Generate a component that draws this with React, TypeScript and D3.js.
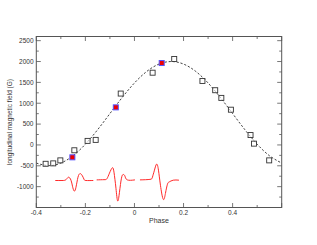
import React from 'react';
import * as d3 from 'd3';

// observed longitudinal field
const obsPhase = [-0.362, -0.331, -0.302, -0.245, -0.191, -0.158, -0.056, 0.074, 0.162, 0.277, 0.329, 0.354, 0.393, 0.473, 0.487, 0.549];
const obsField = [-452, -442, -370, -128, 97, 121, 1232, 1732, 2060, 1534, 1312, 1128, 845, 237, 31, -370];

// highlighted points (red)
const redPhase = [-0.253, -0.076, 0.111];
const redField = [-297, 901, 1964];

const fitPhase = [-0.4, -0.35, -0.3, -0.25, -0.2, -0.15, -0.1, -0.05, 0, 0.05, 0.1, 0.15, 0.2, 0.25, 0.3, 0.35, 0.4, 0.45, 0.5, 0.55, 0.6];
const fitField = [-435, -496, -435, -258, 18, 366, 752, 1138, 1486, 1762, 1939, 2000, 1939, 1762, 1486, 1138, 752, 366, 18, -258, -435];

// Stokes V profile insets (plotted in data units)
const prof1Phase = [-0.3226, -0.2953, -0.279, -0.2688, -0.2587, -0.2525, -0.2456, -0.2383, -0.2301, -0.222, -0.2138, -0.2057, -0.1976, -0.1678];
const prof1Field = [-853, -853, -833, -773, -845, -990, -1106, -1014, -773, -688, -725, -821, -853, -853];
const prof2Phase = [-0.154, -0.1242, -0.112, -0.1018, -0.0904, -0.0835, -0.0754, -0.0684, -0.0611, -0.053, -0.0456, -0.0387, -0.0293, 0.002];
const prof2Field = [-838, -833, -809, -676, -548, -652, -1039, -1345, -1135, -797, -708, -749, -838, -838];
const prof3Phase = [0.0224, 0.0631, 0.0733, 0.0815, 0.0904, 0.0978, 0.1059, 0.1173, 0.1263, 0.1344, 0.1418, 0.158, 0.1813];
const prof3Field = [-838, -826, -773, -604, -459, -604, -966, -1304, -1159, -942, -886, -845, -845];

const xTicks = [-0.4, -0.2, 0, 0.2, 0.4];
const yTicks = [-1000, -500, 0, 500, 1000, 1500, 2000, 2500];

const W = 317, H = 245;
const left = 36.3, right = 281.7, top = 36.5, bottom = 207.5;
const font = 'Liberation Sans, Arial, sans-serif';

const App = () => {
  const x = d3.scaleLinear().domain([-0.4, 0.6]).range([left, right]);
  const y = d3.scaleLinear().domain([-1500, 2600]).range([bottom, top]);

  const line = d3.line<[number, number]>().x(d => x(d[0])).y(d => y(d[1]));
  const fitLine = d3.line<[number, number]>().x(d => x(d[0])).y(d => y(d[1])).curve(d3.curveNatural);
  const zip = (a: number[], b: number[]) => a.map((v, i) => [v, b[i]] as [number, number]);

  const xMinor = d3.range(-0.4, 0.6001, 0.1);
  const yMinor = d3.range(-1500, 2501, 250);
  const axisColor = '#555';
  const s = 5;

  return (
    <svg width={W} height={H} style={{ position: 'fixed', left: 0, top: 0, background: '#fff' }}>
      <rect x={0} y={0} width={W} height={H} fill="#fff" />
      {/* profiles */}
      {[zip(prof1Phase, prof1Field), zip(prof2Phase, prof2Field), zip(prof3Phase, prof3Field)].map((p, i) => (
        <path key={'p' + i} d={fitLine(p) || ''} fill="none" stroke="#ff2a2a" strokeWidth={1} strokeLinejoin="round" />
      ))}
      {/* fit */}
      <path d={fitLine(zip(fitPhase, fitField)) || ''} fill="none" stroke="#111" strokeWidth={0.8} strokeDasharray="2.2,1.8" />
      {/* observations */}
      {obsPhase.map((p, i) => (
        <rect key={'o' + i} x={x(p) - s / 2} y={y(obsField[i]) - s / 2} width={s} height={s} fill="#fff" fillOpacity={0.6} stroke="#333" strokeWidth={0.9} />
      ))}
      {redPhase.map((p, i) => (
        <rect key={'r' + i} x={x(p) - s / 2} y={y(redField[i]) - s / 2} width={s} height={s} fill="#ee0000" stroke="#5555ff" strokeWidth={1} />
      ))}
      {/* frame */}
      <rect x={left} y={top} width={right - left} height={bottom - top} fill="none" stroke={axisColor} strokeWidth={1} />
      {xMinor.map((t, i) => {
        const major = Math.abs(Math.round(t * 10)) % 2 === 0;
        const len = major ? 4.5 : 2.5;
        const px = x(t);
        return (
          <g key={'xt' + i} stroke={axisColor} strokeWidth={0.8}>
            <line x1={px} x2={px} y1={bottom} y2={bottom - len} />
            <line x1={px} x2={px} y1={top} y2={top + len} />
          </g>
        );
      })}
      {yMinor.map((t, i) => {
        const major = t % 500 === 0;
        const len = major ? 4.5 : 2.5;
        const py = y(t);
        return (
          <g key={'yt' + i} stroke={axisColor} strokeWidth={0.8}>
            <line x1={left} x2={left + len} y1={py} y2={py} />
            <line x1={right} x2={right - len} y1={py} y2={py} />
          </g>
        );
      })}
      {xTicks.map((t, i) => (
        <text key={'xl' + i} x={x(t)} y={bottom + 7.5} textAnchor="middle" fontFamily={font} fontSize={6.5} fill="#333">
          {t === 0 ? '0' : d3.format('.1f')(t).replace('−', '-')}
        </text>
      ))}
      {yTicks.map((t, i) => (
        <text key={'yl' + i} x={left - 2.8} y={y(t) + 2.3} textAnchor="end" fontFamily={font} fontSize={6.5} fill="#333">
          {String(t)}
        </text>
      ))}
      <text x={(left + right) / 2} y={bottom + 15.5} textAnchor="middle" fontFamily={font} fontSize={7} fill="#333">Phase</text>
      <text transform={`translate(${11.5},${(top + bottom) / 2}) rotate(-90)`} textAnchor="middle" fontFamily={font} fontSize={6.5} fill="#333">
        longitudinal magnetic field (G)
      </text>
    </svg>
  );
};

export default App;
